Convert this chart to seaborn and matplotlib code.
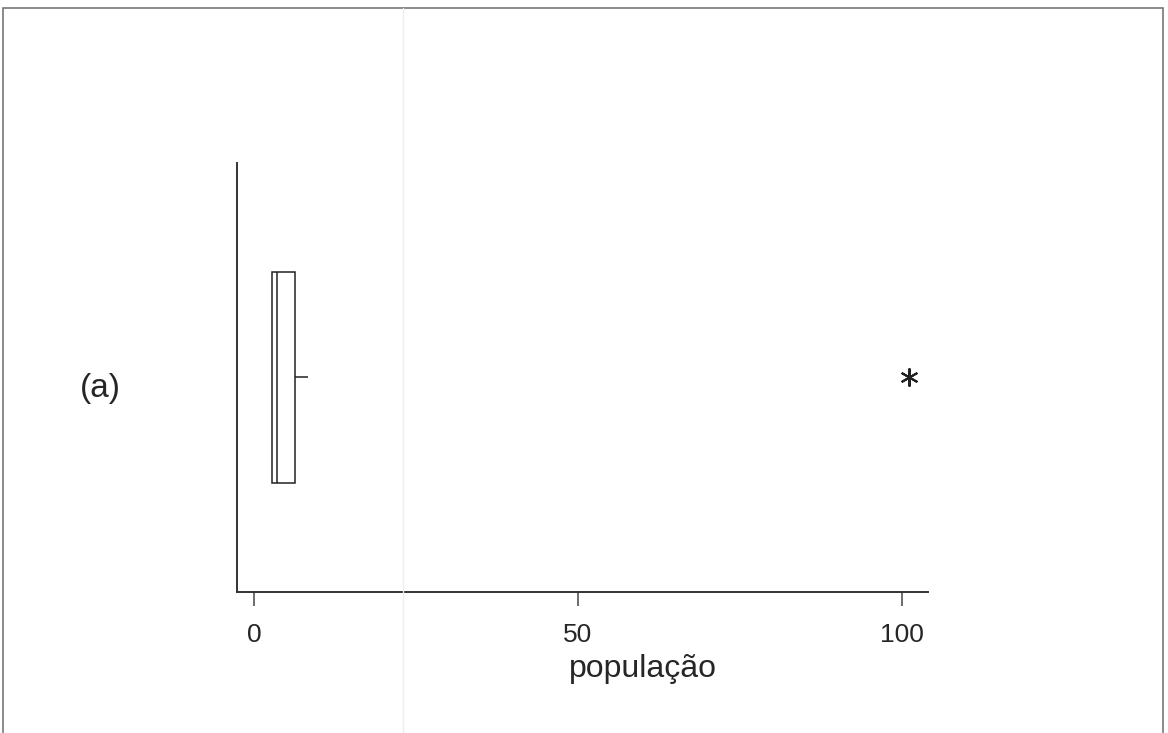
import matplotlib
matplotlib.use('Agg')
import matplotlib.pyplot as plt
import seaborn as sns
from matplotlib.patches import Rectangle
from matplotlib.lines import Line2D

sns.set_style('white')
plt.rcParams['font.family'] = ['Liberation Sans', 'DejaVu Sans']

# population values (estimated from the box plot)
populacao = [2.8, 2.8, 2.8, 3.2, 3.5, 5.0, 6.3, 8.4, 101.0]
xticks = [0, 50, 100]
panel_label = '(a)'
x_label = 'população'

fig = plt.figure(figsize=(11.68, 7.33), dpi=100)
ax = fig.add_axes([0.2029, 0.1924, 0.5916, 0.5853])

sns.boxplot(x=populacao, ax=ax, orient='h', width=0.49, color='white',
            linecolor='#222222', linewidth=1.1, showcaps=False,
            flierprops=dict(marker=(6, 2, 0), markersize=13,
                            markeredgecolor='#222222', markeredgewidth=1.5))

ax.set_xlim(-2.6, 104)
ax.set_ylim(0.5, -0.5)
ax.set_xticks(xticks)
ax.set_xticklabels([str(t) for t in xticks], fontsize=19)
ax.set_yticks([])
ax.tick_params(axis='x', direction='out', length=10, width=1.1,
               color='#444444', pad=12, bottom=True)
ax.set_xlabel(x_label, fontsize=23)
ax.xaxis.set_label_coords(0.588, -0.145)

sns.despine(ax=ax, top=True, right=True)
for s in ['left', 'bottom']:
    ax.spines[s].set_color('#333333')
    ax.spines[s].set_linewidth(1.4)

fig.text(100 / 1168, 1 - 388 / 733, panel_label, fontsize=24,
         ha='center', va='center')

# scanned page frame
fig.patches.append(Rectangle((3 / 1168, -0.01), 1160 / 1168, 1 - 8 / 733 + 0.01,
                             transform=fig.transFigure, fill=False,
                             edgecolor='#777777', linewidth=1.2))
fig.lines.append(Line2D([403 / 1168, 403 / 1168], [0, 1 - 8 / 733],
                        transform=fig.transFigure, color='#eeeeee', linewidth=1))

fig.savefig('out.png', dpi=100)
